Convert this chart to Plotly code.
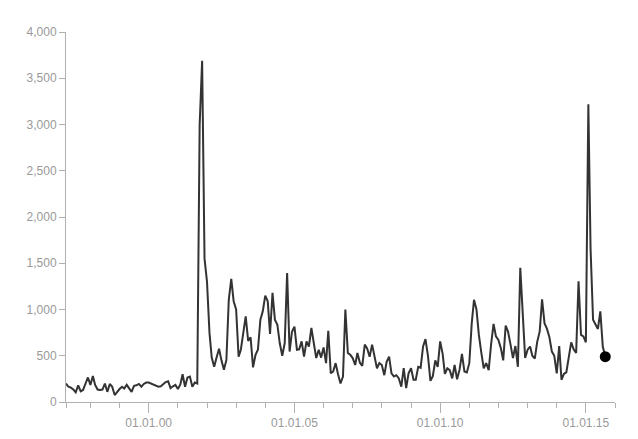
import pandas as pd
import plotly.graph_objects as go

start_month = "1997-03-01"
values = [
    200, 165, 155, 135, 105, 180, 115, 130, 200, 265,
    185, 280, 185, 135, 130, 135, 200, 110, 195, 165,
    75, 110, 140, 165, 145, 185, 150, 110, 175, 180,
    195, 165, 195, 210, 210, 200, 185, 175, 165, 170,
    195, 215, 225, 150, 170, 185, 140, 190, 300, 165,
    265, 275, 165, 210, 200, 3000, 3690, 1550, 1300, 750,
    480, 380, 480, 575, 450, 350, 455, 1105, 1330, 1090,
    1000, 490, 565, 750, 925, 660, 700, 375, 510, 565,
    890, 980, 1150, 1090, 735, 1180, 890, 835, 635, 500,
    635, 1395, 545, 760, 815, 565, 570, 655, 490, 655,
    600, 800, 635, 475, 565, 480, 590, 420, 770, 310,
    330, 420, 300, 200, 275, 1000, 530, 510, 475, 400,
    530, 425, 390, 620, 580, 490, 620, 490, 365, 420,
    400, 290, 435, 490, 310, 275, 290, 255, 165, 365,
    150, 310, 365, 240, 240, 380, 370, 600, 680, 500,
    228, 280, 450, 380, 655, 520, 305, 365, 345, 255,
    400, 245, 350, 520, 330, 320, 420, 855, 1105, 1000,
    725, 530, 365, 420, 345, 620, 845, 710, 670, 580,
    450, 825, 760, 620, 475, 605, 380, 1450, 950, 475,
    565, 600, 500, 470, 650, 760, 1110, 850, 790, 700,
    545, 500, 310, 605, 240, 305, 320, 490, 645, 570,
    530, 1305, 725, 710, 645, 3220, 1650, 890, 835, 790,
    980, 600, 490,
]
dates = pd.date_range(start_month, periods=len(values), freq="MS")

major_ticks = ["2000-01-01", "2005-01-01", "2010-01-01", "2015-01-01"]
minor_ticks = [start_month] + [f"{y}-01-01" for y in range(1998, 2017) if y % 5 != 0]
x_end = "2016-01-01"
y_ticks = [0, 500, 1000, 1500, 2000, 2500, 3000, 3500, 4000]

axis_grey = "#b0b0b0"
label_grey = "#999999"

fig = go.Figure()
fig.add_trace(go.Scatter(
    x=dates, y=values, mode="lines",
    line=dict(color="#333333", width=2),
    hoverinfo="skip", showlegend=False,
))
fig.add_trace(go.Scatter(
    x=[dates[-1]], y=[values[-1]], mode="markers",
    marker=dict(color="#000000", size=11),
    hoverinfo="skip", showlegend=False,
))

# page body has an 8px default margin, so the figure is sized to fit the window
fig.update_layout(
    width=622, height=423,
    margin=dict(l=58, r=15, t=24, b=29, autoexpand=False),
    paper_bgcolor="white", plot_bgcolor="white",
    font=dict(family="Liberation Sans, Arial, sans-serif", size=12, color=label_grey),
    xaxis=dict(
        range=[start_month, x_end], automargin=False,
        tickmode="array", tickvals=major_ticks, tickformat="%d.%m.%y",
        ticks="outside", ticklen=10, tickcolor=axis_grey, tickwidth=1,
        showline=True, linecolor=axis_grey, linewidth=1,
        showgrid=False, zeroline=False,
        minor=dict(tickmode="array", tickvals=minor_ticks, ticks="outside",
                   ticklen=5, tickcolor=axis_grey, tickwidth=1, showgrid=False),
    ),
    yaxis=dict(
        range=[0, 4000], automargin=False,
        tickmode="array", tickvals=y_ticks, tickformat=",",
        ticks="outside", ticklen=6, tickcolor=axis_grey, tickwidth=1,
        showline=True, linecolor=axis_grey, linewidth=1,
        showgrid=False, zeroline=False,
    ),
)

fig.write_html("out.html")
